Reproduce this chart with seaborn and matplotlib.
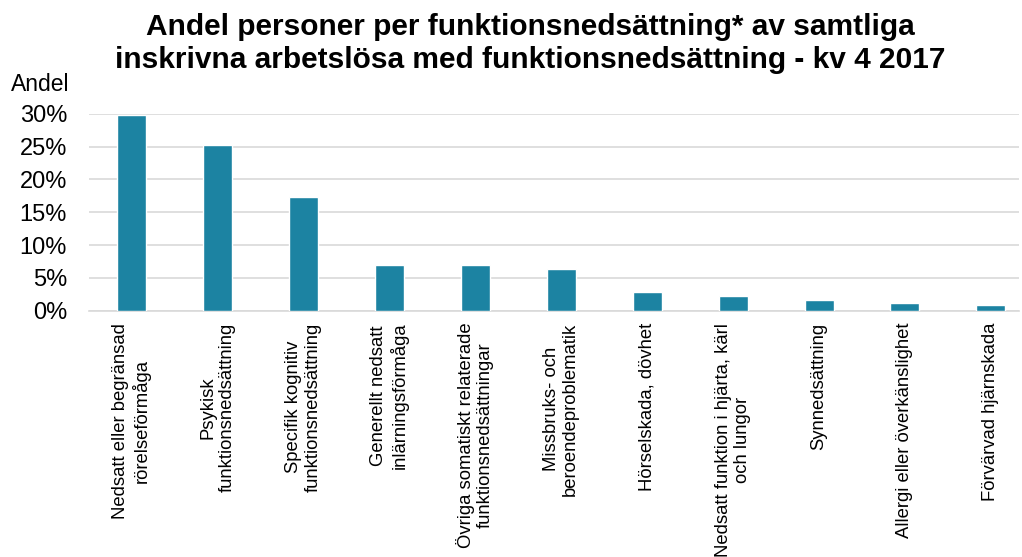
import matplotlib
matplotlib.use('Agg')
import pandas as pd
import matplotlib.pyplot as plt
import seaborn as sns
from matplotlib.ticker import PercentFormatter

#-- Data:

categories = [
    'Nedsatt eller begränsad\nrörelseförmåga',
    'Psykisk\nfunktionsnedsättning',
    'Specifik kognitiv\nfunktionsnedsättning',
    'Generellt nedsatt\ninlärningsförmåga',
    'Övriga somatiskt relaterade\nfunktionsnedsättningar',
    'Missbruks- och\nberoendeproblematik',
    'Hörselskada, dövhet',
    'Nedsatt funktion i hjärta, kärl\noch lungor',
    'Synnedsättning',
    'Allergi eller överkänslighet',
    'Förvärvad hjärnskada',
]
shares = [0.298, 0.252, 0.173, 0.070, 0.069, 0.063, 0.028, 0.022, 0.017, 0.012, 0.009]
yticks = [0, 0.05, 0.10, 0.15, 0.20, 0.25, 0.30]
title_lines = ['Andel personer per funktionsnedsättning* av samtliga',
               'inskrivna arbetslösa med funktionsnedsättning - kv 4 2017']

df = pd.DataFrame({'category': categories, 'share': shares})

#-- Style:

sns.set_style('white')
plt.rcParams['font.family'] = ['Liberation Sans', 'DejaVu Sans']
plt.rcParams['text.color'] = 'black'
plt.rcParams['xtick.color'] = 'black'
plt.rcParams['ytick.color'] = 'black'

bar_color = '#1C83A2'
grid_color = '#D9D9D9'

fig = plt.figure(figsize=(10.22, 5.57), dpi=100)
ax = fig.add_axes([0.0871, 0.4422, 0.9099, 0.3537])

sns.barplot(data=df, x='category', y='share', color=bar_color, width=0.337,
            saturation=1, ax=ax, zorder=3)

ax.set_ylim(0, 0.30)
ax.set_xlim(-0.494, 10.326)
ax.set_yticks(yticks)
ax.yaxis.set_major_formatter(PercentFormatter(1.0, decimals=0))
ax.grid(axis='y', color=grid_color, linewidth=1.2, zorder=0)
ax.tick_params(axis='y', length=0, pad=15.8, labelsize=17)
ax.tick_params(axis='x', length=0, pad=8.6)
ax.set_xticks(range(len(categories)))
ax.set_xticklabels(categories, rotation=90, ha='center', va='top',
                   multialignment='center', fontsize=13.3, linespacing=1.15)
ax.set_xlabel('')
ax.set_ylabel('')

for side in ['top', 'right', 'left']:
    ax.spines[side].set_visible(False)
ax.spines['bottom'].set_color(grid_color)
ax.spines['bottom'].set_linewidth(1.2)

fig.text(0.519, 0.9366, title_lines[0], ha='center', va='baseline',
         fontsize=21.5, fontweight='bold')
fig.text(0.519, 0.8774, title_lines[1], ha='center', va='baseline',
         fontsize=21.5, fontweight='bold')
fig.text(0.011, 0.837, 'Andel', ha='left', va='baseline', fontsize=16.5)

plt.savefig('out.png', dpi=100)
